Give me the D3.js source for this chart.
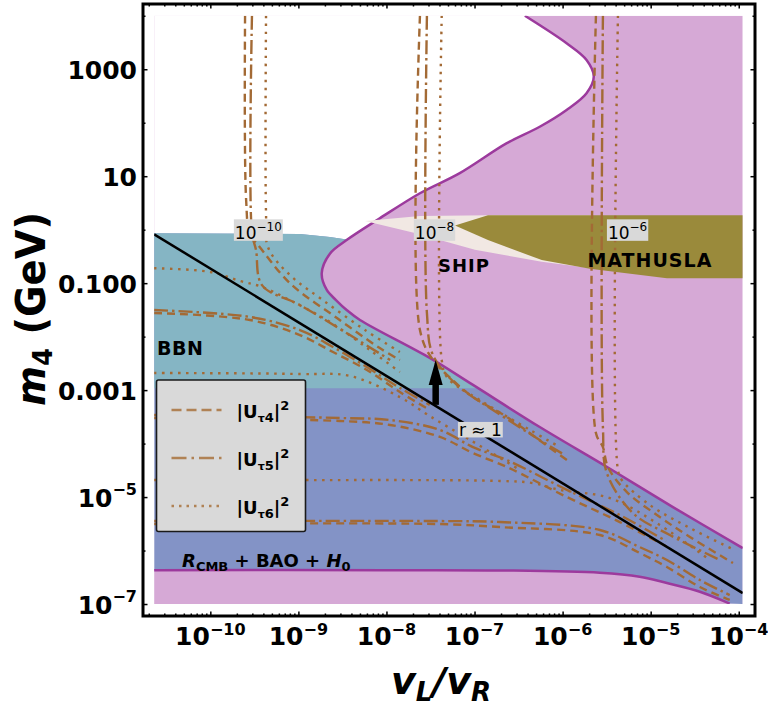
<!DOCTYPE html>
<html>
<head>
<meta charset="utf-8">
<script src="https://d3js.org/d3.v7.min.js"></script>
<style>
  body { margin: 0; background: #fff; }
  text { font-family: "DejaVu Sans", sans-serif; fill: #000; }
  .tick-label { font-size: 25px; font-weight: bold; }
  .axis line { stroke: #000; stroke-width: 1.5px; }
  .contour { fill: none; stroke: #a36a35; stroke-width: 2.4px; }
  .region-label { font-weight: bold; white-space: pre; }
</style>
</head>
<body>
<svg id="chart" width="768" height="710"></svg>
<script>
// ---- axis ticks ----
const xMajor = [1e-10, 1e-9, 1e-8, 1e-7, 1e-6, 1e-5, 1e-4];
const xMajorExp = ["−10", "−9", "−8", "−7", "−6", "−5", "−4"];
const yMajor = [1e3, 10, 0.1, 1e-3, 1e-5, 1e-7];
const yMajorBase = ["1000", "10", "0.100", "0.001", "10", "10"];
const yMajorExp = ["", "", "", "", "−5", "−7"];
const yMinor = [1e4, 100, 1, 0.01, 1e-4, 1e-6];

// ---- plotted window (data units) ----
const xLo = 2.3e-11, xHi = 1.11e-4, mLo = 1e-7, mHi = 1e4;

// ---- cosmology bound (purple curve), upper edge of allowed band ----
const cosmoEdgeX = [3.73e-7, 1.11e-6, 1.87e-6, 2.26e-6, 1.87e-6, 1.11e-6, 5.5e-7, 2.3e-7, 6.8e-8, 2.4e-8,
  8.4e-9, 3.53e-9, 2.29e-9, 1.84e-9, 2.1e-9, 2.67e-9, 3.53e-9, 5e-9, 3.1e-8, 9.6e-8, 5.5e-7, 3.2e-6, 1.79e-5, 1.11e-4];
const cosmoEdgeM = [1e4, 3060, 1490, 730, 356, 173, 84, 41, 11.4, 4.8,
  1.63, 0.64, 0.36, 0.153, 0.0745, 0.0484, 0.0315, 0.0205, 4.0e-3, 1.25e-3, 2.04e-4, 3.65e-5, 6.5e-6, 1.11e-6];

// lower purple curve (R_CMB + BAO + H0)
const cmbLowX = [2.3e-11, 1e-8, 1.94e-7, 2.65e-6, 7.5e-6, 1.53e-5, 3.62e-5, 7.9e-5];
const cmbLowM = [4.3e-7, 4.3e-7, 4.25e-7, 3.85e-7, 3.24e-7, 2.47e-7, 1.7e-7, 1.02e-7];

// BBN region
const bbnTopX = [2.3e-11, 1.04e-9, 2.28e-9, 5e-9, 1.11e-4];
const bbnTopM = [0.857, 0.83, 0.73, 0.6, 0.6];
const bbnBottom = 1.08e-3;

// SHIP and MATHUSLA reach
const shipX = [5.7e-9, 2.4e-8, 1.5e-7, 2.15e-6, 2.15e-6, 5.8e-7, 1.01e-7, 2.1e-8];
const shipM = [1.46, 1.8, 1.86, 1.86, 0.19, 0.252, 0.42, 0.87];
const mathuslaX = [6.0e-8, 1.42e-7, 1.11e-4, 1.11e-4, 1.53e-5, 2.04e-6, 5.8e-7, 1.42e-7];
const mathuslaM = [1.2, 1.86, 1.86, 0.123, 0.124, 0.185, 0.27, 0.64];

// r ~ 1 line
const rLineX = [2.3e-11, 1.11e-4];
const rLineM = [0.82, 1.6e-7];

// arrow
const arrowX = 3.62e-8;
const arrowM = [5.3e-4, 3.65e-3];

// ---- |U_tau4|^2 contours (dashed), values 1e-10, 1e-8, 1e-6 ----
const tau4Lines = [
  [[2.48e-10,1e4],[2.55e-10,3.6],[2.82e-10,0.8],[3.48e-10,0.52],[8.0e-10,0.1],[2.74e-9,0.0223],[8.4e-9,6.1e-3],[1.42e-8,3.65e-3]],
  [[2.4e-8,1e4],[2.4e-8,0.0133],[3.37e-8,3.65e-3],[5.3e-8,1.69e-3],[9.6e-8,7.4e-4],[2.33e-7,3.14e-4],[7.2e-7,8.3e-5],[1.21e-6,4.5e-5]],
  [[2.39e-6,1e4],[2.39e-6,1.58e-4],[2.87e-6,8.6e-5],[3.27e-6,3.65e-5],[5.37e-6,1.24e-5],[1.27e-5,4.24e-6],[2.79e-5,1.79e-6],[8.6e-5,5.85e-7]],
  [[2.3e-11,0.0277],[2.82e-10,0.0205],[1.04e-9,0.0107],[2.47e-9,5.15e-3],[6.0e-9,2.38e-3],[1.42e-8,9.2e-4],[3.1e-8,4.25e-4]],
  [[2.3e-11,3.01e-4],[2.96e-9,2.65e-4],[1.1e-8,2.23e-4],[4.05e-8,1.33e-4],[9.6e-8,6.65e-5],[2.33e-7,3.65e-5],[1.12e-6,1.0e-5],[4.47e-6,3.41e-6],[1.5e-5,1.2e-6]],
  [[2.3e-11,3.13e-6],[4.05e-8,3.13e-6],[1.94e-7,2.75e-6],[2.65e-6,1.95e-6],[7.5e-6,9.0e-7],[1.53e-5,4.92e-7],[3.62e-5,2.08e-7],[7.9e-5,1.19e-7]]
];
// ---- |U_tau5|^2 contours (dash-dot) ----
const tau5Lines = [
  [[2.97e-10,1e4],[2.97e-10,0.87],[3.3e-10,0.42],[3.86e-10,0.092],[1.04e-9,0.039],[3.85e-9,0.0107],[1.1e-8,3.65e-3]],
  [[2.88e-8,1e4],[2.88e-8,0.0277],[3.37e-8,4.53e-3],[6.3e-8,1.25e-3],[1.62e-7,4.25e-4],[5.5e-7,1.17e-4],[1.06e-6,6.1e-5]],
  [[2.87e-6,1e4],[2.87e-6,2.04e-4],[3.18e-6,2.82e-5],[6.3e-6,5.0e-6],[1.65e-5,1.95e-6],[6.1e-5,6.65e-7]],
  [[2.3e-11,0.0315],[2.82e-10,0.0233],[1.04e-9,0.0133],[2.47e-9,6.4e-3],[6.0e-9,2.7e-3],[1.42e-8,1.1e-3],[3.1e-8,5.3e-4]],
  [[2.3e-11,3.43e-4],[2.96e-9,3.01e-4],[1.1e-8,2.76e-4],[4.05e-8,1.8e-4],[9.6e-8,8.6e-5],[2.33e-7,4.92e-5],[1.12e-6,1.36e-5],[4.47e-6,4.6e-6],[1.5e-5,1.5e-6]],
  [[2.3e-11,3.56e-6],[4.05e-8,3.56e-6],[1.94e-7,3.41e-6],[2.65e-6,2.42e-6],[7.5e-6,1.16e-6],[1.53e-5,6.65e-7],[3.62e-5,2.81e-7],[7.9e-5,1.47e-7]]
];
// ---- |U_tau6|^2 contours (dotted) ----
const tau6Lines = [
  [[4.29e-10,1e4],[4.29e-10,2.06],[4.52e-10,0.47],[8.0e-10,0.142],[1.9e-9,0.048],[5.7e-9,0.0133],[1.42e-8,5.15e-3]],
  [[4.24e-8,1e4],[4.24e-8,3.65e-3],[4.85e-8,1.76e-3],[1.15e-7,6.5e-4],[4.25e-7,1.8e-4],[9.3e-7,8.6e-5]],
  [[4.25e-6,1e4],[4.25e-6,3.2e-5],[4.7e-6,2.08e-5],[9.8e-6,7.1e-6],[2.79e-5,2.64e-6],[9.0e-5,1.02e-6]],
  [[2.3e-11,0.19],[1e-10,0.162],[2.17e-10,0.11],[3.86e-10,0.085],[8e-10,0.048],[2.28e-9,0.0188],[6.5e-9,5.6e-3],[1.42e-8,2.18e-3]],
  [[2.3e-11,2.09e-3],[1.04e-9,2.0e-3],[3.85e-9,1.84e-3],[1.42e-8,7.4e-4],[2.96e-8,3.43e-4],[8.9e-8,1.17e-4],[3.3e-7,3.2e-5]],
  [[2.3e-11,2.08e-5],[1.04e-9,2.08e-5],[1.94e-7,2.0e-5],[4.6e-7,1.83e-5],[9.3e-7,1.36e-5],[3.44e-6,9.6e-6],[1.27e-5,3.0e-6],[4.7e-5,6.65e-7]]
];

const legendNames = ["4", "5", "6"];
const dashStyles = ["8,5", "14,4,2.5,4", "2.5,5.5"];
const legendDash = ["10,5", "15,5,2.5,5", "2.5,5"];

// ---- scales ----
const svg = d3.select("#chart");
const x = d3.scaleLog().domain([1.72e-11, 1.53e-4]).range([143, 755]);
const y = d3.scaleLog().domain([1.66e4, 5.97e-8]).range([4, 616]);

const pts = (xs, ms) => xs.map((v, i) => [x(v), y(ms[i])]);
const smooth = d3.line().curve(d3.curveCatmullRom.alpha(0.5));
const straight = d3.line();
const seg = p => smooth(p).slice(1); // drop leading M

// clip paths
const defs = svg.append("defs");
defs.append("clipPath").attr("id", "plotClip").append("rect")
  .attr("x", x(xLo)).attr("y", y(mHi))
  .attr("width", x(xHi) - x(xLo)).attr("height", y(mLo) - y(mHi));

const edgePts = pts(cosmoEdgeX, cosmoEdgeM);
const lowPts = pts(cmbLowX, cmbLowM);
const allowedD = "M" + x(xLo) + "," + y(mHi) + "L" + seg(edgePts) +
  "L" + x(xHi) + "," + y(mLo) + "L" + seg(lowPts.slice().reverse()) + "Z";
defs.append("clipPath").attr("id", "allowedClip").append("path").attr("d", allowedD);

const plot = svg.append("g").attr("clip-path", "url(#plotClip)");

// excluded (purple) background
plot.append("rect")
  .attr("x", x(xLo)).attr("y", y(mHi))
  .attr("width", x(xHi) - x(xLo)).attr("height", y(mLo) - y(mHi))
  .attr("fill", "#d6a9d6");
// allowed region
plot.append("path").attr("d", allowedD).attr("fill", "#ffffff");

// blue band (below the BBN top), only inside allowed region
const bbnTopPts = pts(bbnTopX, bbnTopM);
const bandPts = [[x(xLo), y(mLo)]].concat(bbnTopPts, [[x(xHi), y(mLo)]]);
plot.append("g").attr("clip-path", "url(#allowedClip)")
  .append("path").attr("d", straight(bandPts) + "Z").attr("fill", "#8393c6");
// BBN
const bbnPts = [[x(xLo), y(bbnBottom)]].concat(bbnTopPts, [[x(xHi), y(bbnBottom)]]);
plot.append("g").attr("clip-path", "url(#allowedClip)")
  .append("path").attr("d", straight(bbnPts) + "Z").attr("fill", "#85b5c4");

// purple boundary lines
plot.append("path").attr("d", smooth(edgePts))
  .attr("fill", "none").attr("stroke", "#9c3a9d").attr("stroke-width", 2.5);
plot.append("path").attr("d", smooth(lowPts))
  .attr("fill", "none").attr("stroke", "#9c3a9d").attr("stroke-width", 2.5);

// SHIP / MATHUSLA
plot.append("path").attr("d", straight(pts(shipX, shipM)) + "Z").attr("fill", "#f1e8e3");
plot.append("path").attr("d", straight(pts(mathuslaX, mathuslaM)) + "Z").attr("fill", "#9a8a3b");

// contours
[tau4Lines, tau5Lines, tau6Lines].forEach((set, si) => {
  set.forEach(line => {
    plot.append("path")
      .attr("class", "contour")
      .attr("d", smooth(line.map(p => [x(p[0]), y(p[1])])))
      .attr("stroke-dasharray", dashStyles[si]);
  });
});

// r ~ 1 line
plot.append("path").attr("d", straight(pts(rLineX, rLineM)))
  .attr("stroke", "#000").attr("stroke-width", 2.5).attr("fill", "none");

// arrow
const ax = x(arrowX), ay0 = y(arrowM[0]), ay1 = y(arrowM[1]);
svg.append("line").attr("x1", ax).attr("x2", ax).attr("y1", ay0).attr("y2", ay1 + 22)
  .attr("stroke", "#000").attr("stroke-width", 6.5);
svg.append("path")
  .attr("d", `M${ax},${ay1}L${ax - 7},${ay1 + 25}L${ax + 7},${ay1 + 25}Z`)
  .attr("fill", "#000");

// boxed value labels
function boxedLabel(xv, mv, base, sup, padTop) {
  const g = svg.append("g");
  const bx = x(xv), by = y(mv);
  const t = g.append("text").attr("x", bx).attr("y", by).attr("font-size", 17).style("white-space", "pre");
  t.append("tspan").text(base);
  if (sup) t.append("tspan").attr("dy", -8).attr("font-size", 12).text(sup);
  const bb = t.node().getBBox();
  g.insert("rect", "text")
    .attr("x", bb.x - 1).attr("y", bb.y + padTop)
    .attr("width", bb.width + 2).attr("height", by + 1.5 - (bb.y + padTop))
    .attr("fill", "#d9d9d9");
}
boxedLabel(1.9e-10, 0.66, "10", "−10", -1);
boxedLabel(2.1e-8, 0.66, "10", "−8", -1);
boxedLabel(3.27e-6, 0.66, "10", "−6", -1);
boxedLabel(6.65e-8, 1.39e-4, "r ≈ 1", null, 2);

// region names
svg.append("text").attr("class", "region-label").attr("font-size", 18).attr("letter-spacing", 1)
  .attr("x", x(7.6e-8)).attr("y", y(0.162)).attr("text-anchor", "middle").text("SHIP");
svg.append("text").attr("class", "region-label").attr("font-size", 19).attr("letter-spacing", 1)
  .attr("x", x(9.8e-6)).attr("y", y(0.2)).attr("text-anchor", "middle").text("MATHUSLA");
svg.append("text").attr("class", "region-label").attr("font-size", 19).attr("letter-spacing", 0.5)
  .attr("x", x(2.48e-11)).attr("y", y(4.53e-3)).text("BBN");
const cmb = svg.append("text").attr("class", "region-label").attr("font-size", 18)
  .attr("x", x(4.77e-11)).attr("y", y(4.92e-7));
cmb.append("tspan").attr("font-style", "italic").text("R");
cmb.append("tspan").attr("font-size", 13).attr("dy", 4).text("CMB");
cmb.append("tspan").attr("dy", -4).text(" + BAO + ");
cmb.append("tspan").attr("font-style", "italic").text("H");
cmb.append("tspan").attr("font-size", 13).attr("dy", 4).text("0");

// legend
const lg = svg.append("g");
lg.append("rect").attr("x", 156.5).attr("y", 380).attr("width", 149).attr("height", 151.5)
  .attr("rx", 2).attr("fill", "#d9d9d9").attr("stroke", "#1a1a1a").attr("stroke-width", 1.6);
legendNames.forEach((n, i) => {
  const ly = 410 + i * 48;
  lg.append("line").attr("x1", 171.5).attr("x2", 221.5).attr("y1", ly).attr("y2", ly)
    .attr("stroke", "#b08255").attr("stroke-width", 2.4).attr("stroke-dasharray", legendDash[i]);
  const t = lg.append("text").attr("x", 236.5).attr("y", ly + 8).attr("font-size", 18).attr("font-weight", "bold");
  t.append("tspan").text("|U");
  t.append("tspan").attr("font-size", 11).attr("dy", 4).text("τ");
  t.append("tspan").attr("font-size", 13).text(n);
  t.append("tspan").attr("dy", -4).text("|");
  t.append("tspan").attr("font-size", 13).attr("dy", -8).text("2");
});

// ticks (inward) on all four sides
const xMinor = [];
for (let e = -11; e <= -4; e++) for (let k = 2; k <= 9; k++) {
  const v = k * Math.pow(10, e);
  if (v > 1.72e-11 && v < 1.53e-4) xMinor.push(v);
}
function tickSet(axis, vals, size, tr) {
  svg.append("g").attr("class", "axis").attr("transform", tr)
    .call(axis.tickValues(vals).tickSize(size).tickFormat(""))
    .call(g => g.select(".domain").remove());
}
tickSet(d3.axisBottom(x), xMajor, -4.5, "translate(0,616)");
tickSet(d3.axisBottom(x), xMinor, -2.5, "translate(0,616)");
tickSet(d3.axisTop(x), xMajor, -4.5, "translate(0,4)");
tickSet(d3.axisTop(x), xMinor, -2.5, "translate(0,4)");
tickSet(d3.axisLeft(y), yMajor, -4.5, "translate(143,0)");
tickSet(d3.axisLeft(y), yMinor, -2.5, "translate(143,0)");
tickSet(d3.axisRight(y), yMajor, -4.5, "translate(755,0)");
tickSet(d3.axisRight(y), yMinor, -2.5, "translate(755,0)");

// frame
svg.append("rect").attr("x", 143).attr("y", 4).attr("width", 612).attr("height", 612)
  .attr("fill", "none").attr("stroke", "#000").attr("stroke-width", 3);

// tick labels
xMajor.forEach((v, i) => {
  const t = svg.append("text").attr("class", "tick-label")
    .attr("x", x(v)).attr("y", 645).attr("text-anchor", "middle");
  t.append("tspan").text("10");
  t.append("tspan").attr("dy", -10).attr("font-size", 16).text(xMajorExp[i]);
});
yMajor.forEach((v, i) => {
  const t = svg.append("text").attr("class", "tick-label")
    .attr("x", 137).attr("y", y(v) + 9.5).attr("text-anchor", "end");
  t.append("tspan").text(yMajorBase[i]);
  if (yMajorExp[i]) t.append("tspan").attr("dy", -12).attr("font-size", 16).text(yMajorExp[i]);
});

// axis titles
const xt = svg.append("text").attr("x", 441).attr("y", 694).attr("text-anchor", "middle")
  .attr("font-size", 38).attr("font-weight", "bold").attr("font-style", "italic");
xt.append("tspan").text("v");
xt.append("tspan").attr("font-size", 26).attr("dy", 7).text("L");
xt.append("tspan").attr("dy", -7).text("/v");
xt.append("tspan").attr("font-size", 26).attr("dy", 7).text("R");

const yt = svg.append("text").attr("transform", "translate(45,309) rotate(-90)")
  .attr("text-anchor", "middle").attr("font-size", 40).attr("font-weight", "bold")
  .attr("textLength", 194).attr("lengthAdjust", "spacingAndGlyphs").style("white-space", "pre");
yt.append("tspan").attr("font-style", "italic").text("m");
yt.append("tspan").attr("font-size", 27).attr("dy", 7).text("4");
yt.append("tspan").attr("dy", -7).text(" (GeV)");
</script>
</body>
</html>
